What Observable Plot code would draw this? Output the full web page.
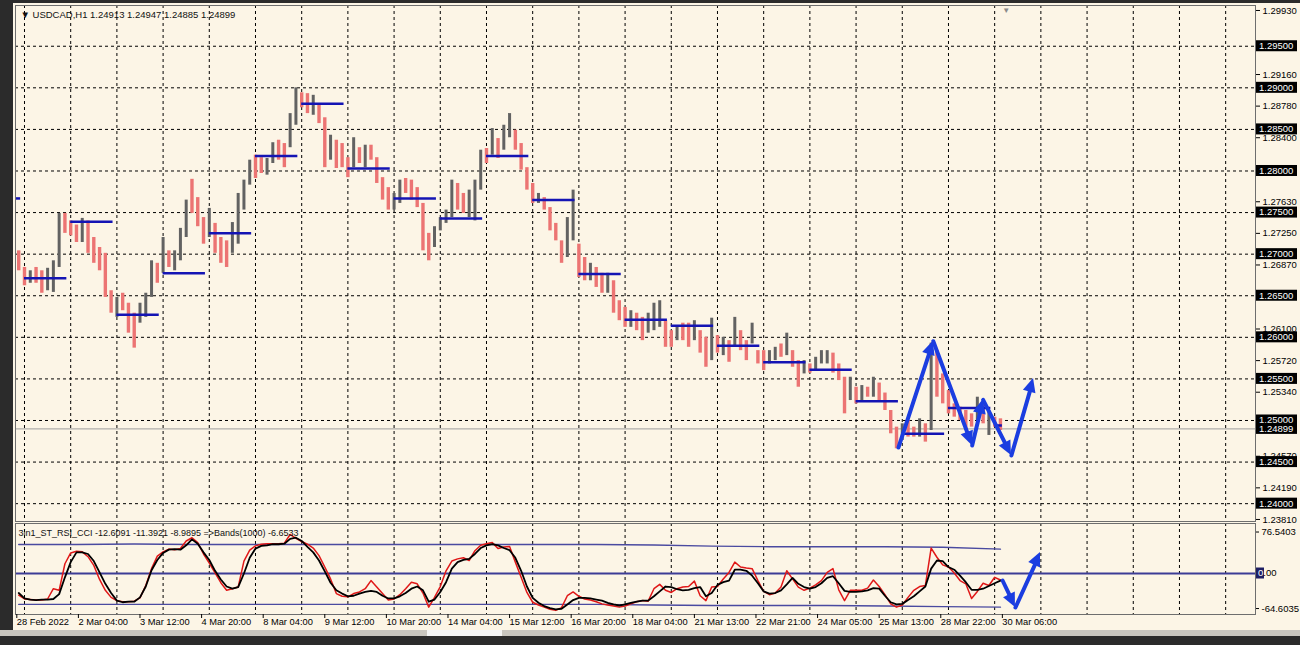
<!DOCTYPE html>
<html><head><meta charset="utf-8">
<script src="https://cdn.jsdelivr.net/npm/d3@7"></script>
<script src="https://cdn.jsdelivr.net/npm/@observablehq/plot@0.6"></script>
<style>
html,body{margin:0;padding:0;width:1300px;height:645px;overflow:hidden;background:#2b2b2b;font-family:"Liberation Sans",Arial,sans-serif;}
#win{position:absolute;left:13px;top:3px;width:1287px;height:627px;background:#FCF5E6;}
#bot1{position:absolute;left:0;top:630px;width:1300px;height:6px;background:#c9c6bf;}
#thumb{position:absolute;left:427px;top:630px;width:75px;height:6px;background:#f4f4f4;}
#main,#osc{position:absolute;left:0;}
#main{top:0}
#osc{top:522px}
</style></head><body>
<div id="win"></div><div id="bot1"></div><div id="thumb"></div>
<div id="main"></div><div id="osc"></div>
<script>
// ---- DATA (3-hour bars) ----
const hi = [
1.2704,1.2684,1.2680,1.2684,1.2680,1.2683,1.2692,1.2749,1.2749,1.2740,
1.2735,1.2743,1.2740,1.2720,1.2708,1.2701,1.2656,1.2648,1.2653,1.2641,
1.2629,1.2641,1.2653,1.2692,1.2689,1.2720,1.2704,1.2704,1.2731,1.2765,
1.2790,1.2768,1.2744,1.2755,1.2737,1.2720,1.2716,1.2738,1.2773,1.2789,
1.2813,1.2819,1.2816,1.2815,1.2834,1.2837,1.2833,1.2869,1.2900,1.2894,
1.2893,1.2891,1.2881,1.2864,1.2843,1.2837,1.2833,1.2816,1.2840,1.2828,
1.2831,1.2831,1.2816,1.2792,1.2780,1.2773,1.2789,1.2791,1.2789,1.2780,
1.2761,1.2725,1.2733,1.2744,1.2753,1.2789,1.2785,1.2773,1.2777,1.2789,
1.2825,1.2827,1.2851,1.2839,1.2855,1.2869,1.2849,1.2833,1.2804,1.2785,
1.2773,1.2768,1.2756,1.2737,1.2716,1.2744,1.2777,1.2712,1.2696,1.2689,
1.2684,1.2677,1.2677,1.2668,1.2644,1.2636,1.2632,1.2629,1.2624,1.2629,
1.2641,1.2644,1.2620,1.2608,1.2612,1.2617,1.2617,1.2620,1.2608,1.2600,
1.2623,1.2602,1.2600,1.2596,1.2624,1.2608,1.2596,1.2617,1.2584,1.2584,
1.2584,1.2588,1.2592,1.2605,1.2584,1.2572,1.2572,1.2568,1.2576,1.2584,
1.2584,1.2581,1.2568,1.2552,1.2552,1.2540,1.2542,1.2540,1.2552,1.2545,
1.2533,1.2512,1.2492,1.2496,1.2500,1.2492,1.2502,1.2496,1.2593,1.2584,
1.2556,1.2536,1.2520,1.2516,1.2512,1.2508,1.2528,1.2520,1.2512,1.2504,1.2502];
const lo = [
1.2680,1.2662,1.2665,1.2665,1.2653,1.2656,1.2654,1.2684,1.2725,1.2722,
1.2714,1.2714,1.2701,1.2689,1.2680,1.2648,1.2629,1.2624,1.2632,1.2605,
1.2587,1.2617,1.2624,1.2648,1.2665,1.2677,1.2684,1.2680,1.2692,1.2720,
1.2749,1.2733,1.2712,1.2720,1.2701,1.2689,1.2684,1.2701,1.2712,1.2753,
1.2783,1.2791,1.2797,1.2795,1.2809,1.2813,1.2804,1.2828,1.2855,1.2876,
1.2869,1.2867,1.2857,1.2804,1.2813,1.2803,1.2804,1.2792,1.2804,1.2809,
1.2804,1.2813,1.2785,1.2765,1.2753,1.2753,1.2761,1.2773,1.2765,1.2756,
1.2704,1.2692,1.2708,1.2728,1.2737,1.2744,1.2753,1.2749,1.2744,1.2740,
1.2777,1.2809,1.2819,1.2815,1.2825,1.2840,1.2825,1.2801,1.2777,1.2761,
1.2761,1.2753,1.2728,1.2716,1.2689,1.2696,1.2716,1.2672,1.2668,1.2668,
1.2660,1.2653,1.2653,1.2629,1.2620,1.2612,1.2612,1.2608,1.2596,1.2605,
1.2608,1.2612,1.2588,1.2588,1.2596,1.2596,1.2588,1.2596,1.2581,1.2564,
1.2572,1.2581,1.2578,1.2570,1.2588,1.2584,1.2572,1.2592,1.2568,1.2560,
1.2568,1.2572,1.2576,1.2578,1.2564,1.2540,1.2556,1.2557,1.2560,1.2568,
1.2568,1.2557,1.2548,1.2508,1.2524,1.2520,1.2524,1.2528,1.2528,1.2524,
1.2512,1.2484,1.2466,1.2476,1.2480,1.2480,1.2480,1.2474,1.2488,1.2528,
1.2520,1.2508,1.2504,1.2500,1.2488,1.2492,1.2500,1.2496,1.2482,1.2492,1.2488];
const dir = "ddudduuudd"+"dudddddudd"+"duuududuuu"+"ddduddduuu"+"udduudduud"+"duddudddud"+"udddduuddd"+"dduuuudduu"+"ududuudddd"+"udddduuddu"+"dduddduddu"+"uudduddudd"+"udududdudd"+"uududduduu"+"udddududud"+"ddduddudud"+"ddddddududd";
const oscFast = [
-40,-47,-48,-49,-49,-47,-28,-31,18,38,
41,40,31,15,-11,-31,-44,-50,-52,-52,
-51,-45,-22,9,32,40,45,44,46,60,
66,57,36,19,1,-17,-31,-28,-25,23,
43,51,54,55,55,55,56,72,65,59,
54,47,33,12,-10,-37,-42,-43,-37,-34,
-28,-13,-25,-37,-49,-47,-39,-28,-16,-19,
-36,-62,-44,-24,5,23,27,29,24,42,
52,55,57,46,49,50,21,-7,-35,-53,
-58,-62,-66,-68,-63,-41,-34,-42,-47,-49,
-52,-56,-58,-60,-62,-60,-56,-52,-50,-51,
-28,-20,-31,-35,-28,-25,-24,-14,-41,-50,
-25,-24,-10,2,21,12,10,9,-13,-33,
-39,-36,-25,5,-10,-25,-31,-27,-21,-13,
2,9,-30,-50,-31,-31,-31,-27,-12,-24,
-39,-56,-62,-58,-44,-31,-24,-22,47,30,
16,12,1,-13,-19,-46,-33,-18,-22,-7,-12];
const oscSlow = [
-36,-46,-48,-49,-48,-48,-47,-38,-7,21,
39,39,36,23,2,-19,-36,-50,-53,-52,
-52,-44,-24,6,25,38,44,45,44,52,
63,55,39,25,5,-11,-24,-28,-25,0,
29,46,51,52,54,54,55,64,66,60,
49,39,24,4,-17,-31,-37,-42,-41,-37,
-34,-32,-34,-41,-46,-46,-42,-36,-28,-24,
-31,-52,-48,-34,-16,9,21,25,27,36,
47,52,54,52,47,43,29,5,-24,-45,
-54,-60,-64,-66,-65,-57,-49,-45,-45,-46,
-48,-50,-54,-57,-59,-57,-54,-52,-50,-50,
-42,-33,-24,-25,-29,-31,-30,-27,-25,-42,
-36,-21,-16,-13,7,7,5,-4,-18,-33,
-37,-36,-31,-20,-8,-19,-25,-28,-25,-18,
-8,-5,-18,-32,-34,-34,-33,-31,-27,-28,
-41,-53,-57,-56,-49,-42,-33,-24,9,24,
23,12,7,-4,-16,-30,-30,-28,-23,-18,-13];
const bandUpper = [53.5,53.5,54.5,53.5,53.5,53.5,53.5,53.5,53.5,53.5,53.5,52.5,50.5,49.5,49.5,49.5,48.5,45];
const bandLower = [-57,-57,-57,-57,-57,-57,-57,-57,-57,-57,-57,-58,-59,-59,-59,-60,-61,-62];
const dayLevels = [1.2767,1.2671,1.2739,1.2627,1.2677,1.2725,1.2818,1.2881,1.2803,1.2767,1.2743,1.2818,1.2765,1.2676,1.2621,1.2614,1.2590,1.2570,1.2561,1.2523,1.2484,1.2515,1.2494];
const priceTicks = [1.2993,1.2916,1.2878,1.2840,1.2763,1.2725,1.2687,1.2610,1.2572,1.2534,1.2457,1.2419,1.2381];
const roundLevels = [1.295,1.290,1.285,1.280,1.275,1.270,1.265,1.260,1.255,1.250,1.245,1.240];
const currentPrice = 1.24899;
const oscTicks = [76.5403,-64.6035];
const timeLabels = ["28 Feb 2022","2 Mar 04:00","3 Mar 12:00","4 Mar 20:00","8 Mar 04:00","9 Mar 12:00","10 Mar 20:00","14 Mar 04:00","15 Mar 12:00","16 Mar 20:00","18 Mar 04:00","21 Mar 13:00","22 Mar 21:00","24 Mar 05:00","25 Mar 13:00","28 Mar 22:00","30 Mar 06:00"];
const pathPrice = [[458.0,1.24675],[476.1,1.25953],[496.3,1.24699],[502.0,1.25249],[516.7,1.24579],[528.2,1.25505]];
const pathOsc = [[512.1,-12.9],[518.8,-62.7],[531.8,38.7]];
const titleText = "\u25BC USDCAD,H1 1.24913 1.24947 1.24885 1.24899";
const oscTitle = "3in1_ST_RSI_CCI -12.6091 -11.3921 -8.9895 =>Bands(1000) -6.6533";

// ---- structure ----
const HOURS = 3, DAY = 24, LABEL_STEP = 32, FIRST_DAY = 4;
const xDom = [-0.675, 643.5];
const lastIdx = (hi.length - 1) * HOURS + 2;
const bars = hi.map((h, k) => ({t: k * HOURS + 1, hi: h, lo: lo[k], up: dir[k] === "u"}));
const fast = oscFast.map((v, k) => ({t: k * HOURS + 1, v}));
const slow = oscSlow.map((v, k) => ({t: k * HOURS + 1, v}));
const bandU = bandUpper.map((v, j) => ({t: j * 10 * HOURS + 1, v}));
const bandL = bandLower.map((v, j) => ({t: j * 10 * HOURS + 1, v}));
const days = dayLevels.map((v, j) => {
  const s = FIRST_DAY + DAY * (j - 1);
  return {v, a: Math.max(s, xDom[0]), b: Math.min(s + 22, lastIdx)};
});
const gridX = d3.range(FIRST_DAY, xDom[1], DAY);
const labelX = timeLabels.map((_, m) => m * LABEL_STEP);
const segs = (pts) => pts.slice(1).map((p, i) => ({x1: pts[i][0], y1: pts[i][1], x2: p[0], y2: p[1]}));
const font = {fontFamily: "'Liberation Sans', Arial, sans-serif", fontSize: "9px", background: "transparent", color: "#000", overflow: "visible"};
const dash = {stroke: "#000", strokeDasharray: "3,3", strokeWidth: 1};
const BLUE = "#1b3de0";
const shaft = {x1: "x1", y1: "y1", x2: "x2", y2: "y2", stroke: BLUE, strokeWidth: 4, headLength: 0, insetEnd: 10};

// filled arrow heads placed with the plot's own scales
function addHeads(svg, pts) {
  const sx = svg.scale("x"), sy = svg.scale("y");
  const g = d3.select(svg).append("g").attr("fill", BLUE);
  segs(pts).forEach(s => {
    const ax = sx.apply(s.x1), ay = sy.apply(s.y1), bx = sx.apply(s.x2), by = sy.apply(s.y2);
    const L = Math.hypot(bx - ax, by - ay), ux = (bx - ax) / L, uy = (by - ay) / L;
    const len = 14, hw = 6.5;
    const cx = bx - ux * len, cy = by - uy * len;
    g.append("path").attr("d", `M${bx},${by}L${cx - uy * hw},${cy + ux * hw}L${cx + uy * hw},${cy - ux * hw}Z`);
  });
}

const main = Plot.plot({
  width: 1300, height: 522, marginLeft: 15, marginRight: 45, marginTop: 5, marginBottom: 1,
  x: {domain: xDom, axis: null},
  y: {domain: [1.237855, 1.299899], axis: null},
  style: font,
  marks: [
    Plot.ruleX(gridX, dash),
    Plot.ruleY(roundLevels, dash),
    Plot.ruleY([currentPrice], {stroke: "#9c9c9c", strokeWidth: 1}),
    Plot.ruleX(bars.filter(d => !d.up), {x: "t", y1: "lo", y2: "hi", stroke: "#ec7473", strokeWidth: 3.4}),
    Plot.ruleX(bars.filter(d => d.up), {x: "t", y1: "lo", y2: "hi", stroke: "#626262", strokeWidth: 3}),
    Plot.ruleY(days, {y: "v", x1: "a", x2: "b", stroke: "#1414b4", strokeWidth: 2.5}),
    Plot.arrow(segs(pathPrice), shaft),
    Plot.frame({stroke: "#6e6e6e"}),
    Plot.axisY(priceTicks, {anchor: "right", tickSize: 4, tickPadding: 3, tickFormat: d => d.toFixed(5), fontSize: 9.5, label: null}),
    Plot.text([titleText], {frameAnchor: "top-left", dx: 5, dy: 9, lineAnchor: "middle", textAnchor: "start", fontSize: 9.5, fill: "#111"}),
    Plot.text([lastIdx + 2], {x: d => d, frameAnchor: "top", text: () => "\u25BC", fill: "#8a8a8a", fontSize: 8, dy: 2})
  ]
});
document.getElementById("main").appendChild(main);
addHeads(main, pathPrice);
{
  const ys = main.scale("y");
  const g = d3.select(main).append("g").attr("text-anchor", "start").attr("font-size", 9.5);
  roundLevels.concat([currentPrice]).forEach(v => {
    const py = ys.apply(v);
    g.append("rect").attr("x", 1256).attr("y", py - 5.5).attr("width", 41).attr("height", 11).attr("fill", "#000");
    g.append("text").attr("x", 1259).attr("y", py + 3.4).attr("fill", "#fff").text(v.toFixed(5));
  });
}

const osc = Plot.plot({
  width: 1300, height: 108, marginLeft: 15, marginRight: 45, marginTop: 1, marginBottom: 16,
  x: {domain: xDom, axis: null},
  y: {domain: [-75.6, 92.25], axis: null},
  style: font,
  marks: [
    Plot.ruleX(gridX, dash),
    Plot.ruleY([0], {stroke: "#3c3c96", strokeWidth: 2}),
    Plot.line(bandU, {x: "t", y: "v", stroke: "#4a4aa0", strokeWidth: 1.4}),
    Plot.line(bandL, {x: "t", y: "v", stroke: "#4a4aa0", strokeWidth: 1.4}),
    Plot.line(fast, {x: "t", y: "v", stroke: "#e01818", strokeWidth: 1.5}),
    Plot.line(slow, {x: "t", y: "v", stroke: "#000", strokeWidth: 1.8}),
    Plot.arrow(segs(pathOsc), shaft),
    Plot.frame({stroke: "#6e6e6e"}),
    Plot.axisY(oscTicks, {anchor: "right", tickSize: 3, tickPadding: 3, tickFormat: d => String(d), fontSize: 9.5, label: null}),
    Plot.axisX(labelX, {anchor: "bottom", tickSize: 4, tickFormat: () => "", label: null}),
    Plot.text(labelX, {x: d => d, text: (d, i) => timeLabels[i], frameAnchor: "bottom", lineAnchor: "middle", textAnchor: "start", dy: 8, fontSize: 9.3}),
    Plot.text([oscTitle], {frameAnchor: "top-left", dx: 3, dy: 10, lineAnchor: "middle", textAnchor: "start", fontSize: 9, fill: "#111"})
  ]
});
document.getElementById("osc").appendChild(osc);
addHeads(osc, pathOsc);
{
  const ys = osc.scale("y");
  const py = ys.apply(0);
  const g = d3.select(osc).append("g").attr("text-anchor", "start").attr("font-size", 9.5);
  g.append("rect").attr("x", 1256).attr("y", py - 5.5).attr("width", 8).attr("height", 11).attr("fill", "#1e1e64");
  const t = g.append("text").attr("x", 1258).attr("y", py + 3.4);
  t.append("tspan").attr("fill", "#fff").text("0");
  t.append("tspan").attr("fill", "#000").text(".00");
}
</script>
</body></html>
